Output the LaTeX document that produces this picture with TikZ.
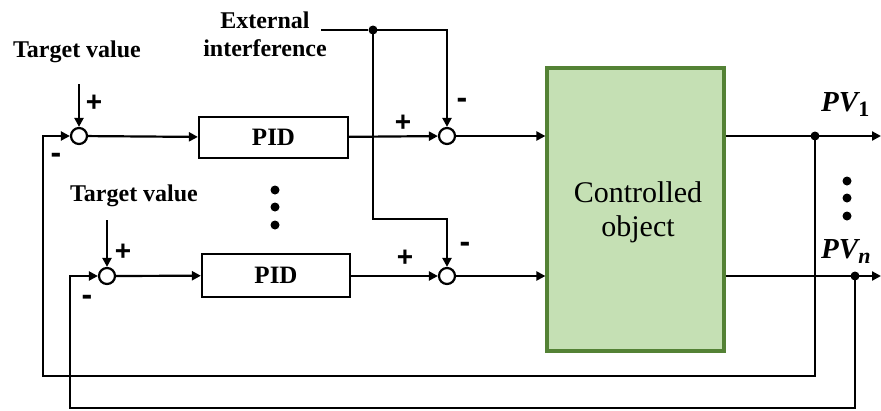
\documentclass[tikz,border=0pt]{standalone}
\usepackage{fontspec}
\setmainfont{Liberation Serif}
\newfontfamily\signfont{Liberation Sans}
\usetikzlibrary{arrows.meta}
\definecolor{plantfill}{RGB}{197,224,180}
\definecolor{plantedge}{RGB}{84,130,53}
\begin{document}
\begin{tikzpicture}[x=1pt,y=-1pt,
  wire/.style={line width=2.2pt},
  arr/.style={wire,-{Triangle[length=9pt,width=9pt]}},
  sumnode/.style={circle,draw,line width=2.2pt,fill=white,minimum size=16pt,inner sep=0pt},
  pidbox/.style={rectangle,draw,line width=2.2pt,inner sep=0pt,font=\fontsize{25}{27}\selectfont\bfseries},
  plantbox/.style={rectangle,draw=plantedge,fill=plantfill,line width=3.2pt,inner sep=0pt,align=center,font=\fontsize{30}{34}\selectfont},
  lbl/.style={font=\fontsize{24}{28}\selectfont\bfseries,align=center,inner sep=0pt},
  sign/.style={font=\fontsize{28}{30}\selectfont\signfont\bfseries,inner sep=0pt},
  msign/.style={font=\fontsize{32}{34}\selectfont\signfont\bfseries,inner sep=0pt},
  pv/.style={font=\fontsize{29}{32}\selectfont\bfseries\itshape,inner sep=0pt},
  jdot/.style={circle,fill=black,minimum size=9pt,inner sep=0pt}
]
\useasboundingbox (0,0) rectangle (881,410);

% blocks
\node[sumnode] (s1) at (79,136) {};
\node[sumnode] (s2) at (447,136) {};
\node[sumnode] (s3) at (107,276) {};
\node[sumnode] (s4) at (447,276) {};
\node[pidbox,minimum width=149pt,minimum height=41pt] (pid1) at (273.5,137.5) {PID};
\node[pidbox,minimum width=148pt,minimum height=43pt] (pid2) at (276,275.5) {PID};
\node[plantbox,minimum width=177pt,minimum height=283pt] (plant) at (635.5,209.5) {};
\node[font=\fontsize{30}{34}\selectfont,align=center] (plantlbl) at (638,212) {Controlled\\object};

% texts
\node[lbl] (tv1) at (77,52) {Target value};
\node[lbl] (tv2) at (134,196) {Target value};
\node[lbl] (ext) at (265,34) {External\\interference};

% coordinates
\coordinate (tv1s) at (79,84);
\coordinate (tv2s) at (107,220);
\coordinate (exts) at (321,30);
\node[jdot] (j1) at (373,30) {};
\coordinate (c1) at (447,30);
\coordinate (c2) at (373,219);
\coordinate (c3) at (447,219);
\node[jdot] (o1) at (815,136) {};
\node[jdot] (o2) at (855,276) {};
\coordinate (e1) at (881,136);
\coordinate (e2) at (881,276);
\coordinate (f1a) at (815,376);
\coordinate (f1b) at (43,376);
\coordinate (f1c) at (43,136);
\coordinate (f2a) at (855,408);
\coordinate (f2b) at (70,408);
\coordinate (f2c) at (70,276);

% connectors
\draw[arr] (tv1s) -- (s1);
\draw[arr] (tv2s) -- (s3);
\draw[arr] (s1) -- (pid1);
\draw[arr] (s3) -- (pid2);
\draw[arr] (pid1) -- (s2);
\draw[arr] (pid2.east |- s4) -- (s4);
\draw[arr] (s2) -- (plant.west |- s2);
\draw[arr] (s4) -- (plant.west |- s4);
\draw[wire] (exts) -- (j1);
\draw[arr] (j1.center) -- (c1) -- (s2);
\draw[arr] (j1.center) -- (c2) -- (c3) -- (s4);
\draw[arr] (plant.east |- o1) -- (e1);
\draw[arr] (plant.east |- o2) -- (e2);
\draw[arr] (o1.center) -- (f1a) -- (f1b) -- (f1c) -- (s1);
\draw[arr] (o2.center) -- (f2a) -- (f2b) -- (f2c) -- (s3);

% signs
\node[sign] (p1) at (94,103) {+};
\node[msign] (m1) at (56,158) {-};
\node[sign] (p2) at (403,123) {+};
\node[msign] (m2) at (462,103) {-};
\node[sign] (p3) at (123,252) {+};
\node[msign] (m3) at (87,300) {-};
\node[sign] (p4) at (405,258) {+};
\node[msign] (m4) at (465,247) {-};

% PV labels
\node[pv,anchor=base west] (pv1) at (821,111) {PV\raisebox{-5pt}{\fontsize{22}{24}\selectfont\upshape 1}};
\node[pv,anchor=base west] (pvn) at (821,258) {PV\raisebox{-5pt}{\fontsize{22}{24}\selectfont n}};

% ellipsis dots
\foreach \yy in {190,207,225} \fill (275,\yy) circle (4.5pt);
\foreach \yy in {181,198,216} \fill (847,\yy) circle (4.5pt);
\end{tikzpicture}
\end{document}
